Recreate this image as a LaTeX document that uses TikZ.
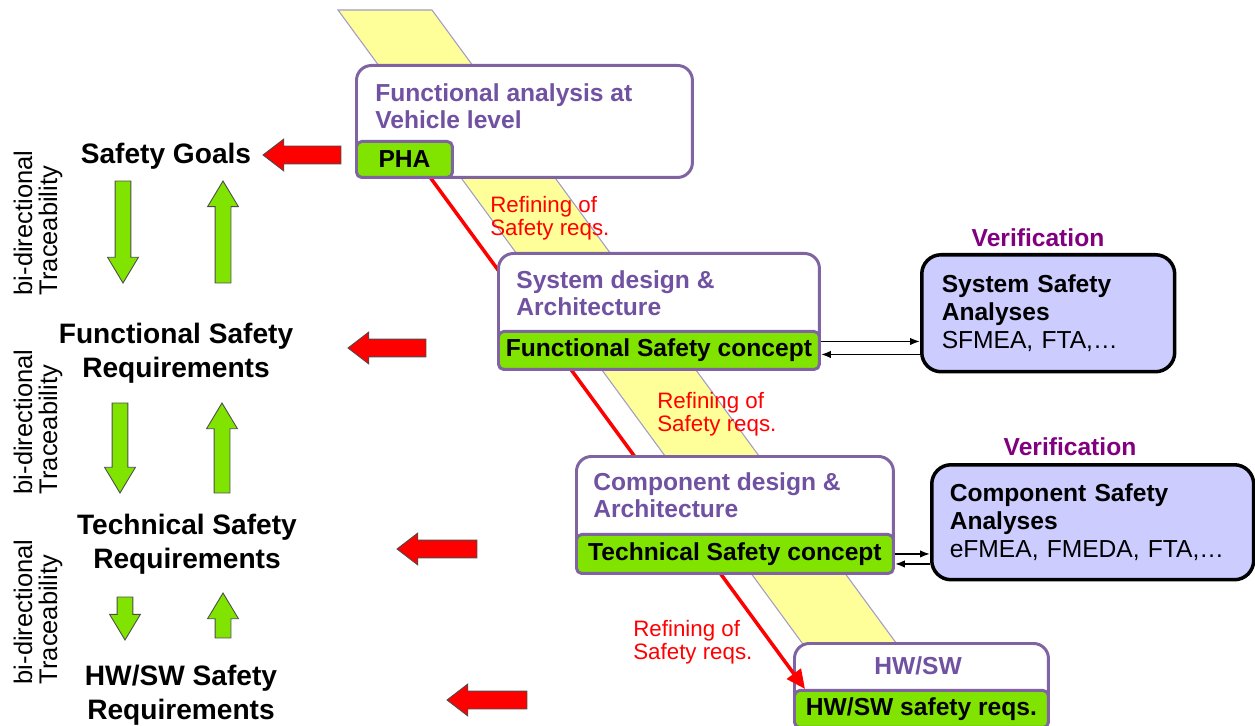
\documentclass[tikz,border=0pt]{standalone}
\usepackage{fontspec}
\setmainfont{Liberation Sans}
\usetikzlibrary{arrows.meta,shapes.arrows,calc,positioning}

\definecolor{boxline}{HTML}{8064A2}
\definecolor{titletext}{HTML}{7151A1}
\definecolor{conceptgreen}{HTML}{80E400}
\definecolor{verifill}{HTML}{CCCCFF}
\definecolor{veritext}{HTML}{800080}
\definecolor{bandfill}{HTML}{FFFF99}
\definecolor{bandline}{HTML}{A09BC8}

\pgfdeclarelayer{background}
\pgfsetlayers{background,main}

\tikzset{
    phasebox/.style={draw=boxline, line width=1.7pt, rounded corners=8.5pt, fill=white, anchor=north west, inner sep=0pt},
    conceptbar/.style={draw=boxline, line width=1.7pt, rounded corners=3pt, fill=conceptgreen, anchor=south west, inner sep=0pt, font=\bfseries\fontsize{14}{16}\selectfont},
    phasetitle/.style={anchor=north west, inner sep=0pt, align=left, text=titletext, font=\bfseries\fontsize{14}{15.4}\selectfont},
    verbox/.style={draw=black, line width=2pt, rounded corners=11pt, fill=verifill, anchor=north west, align=left, font=\fontsize{14}{16}\selectfont},
    verlabel/.style={text=veritext, font=\bfseries\fontsize{14}{16}\selectfont},
    reqtext/.style={align=center, font=\bfseries\fontsize{16}{19.3}\selectfont},
    tracetext/.style={rotate=90, align=left, font=\fontsize{14.5}{14.3}\selectfont},
    refinetext/.style={anchor=north west, inner sep=0pt, align=left, text=red, font=\fontsize{12.7}{13.1}\selectfont},
    blockarrow/.style={single arrow, draw=black!70, line width=0.5pt, inner xsep=0pt, outer sep=0pt, anchor=tip},
    greenarrow/.style={blockarrow, fill=conceptgreen, inner ysep=0.15cm, single arrow head extend=0.15cm, single arrow tip angle=62},
    redarrow/.style={blockarrow, fill=red, inner ysep=0.17cm, single arrow head extend=0.14cm, single arrow tip angle=75, rotate=180},
    checkarrow/.style={line width=0.9pt, -{Latex[length=0.2cm,width=0.15cm]}}
}

\begin{document}
\begin{tikzpicture}[x=0.02cm, y=-0.02cm]
    \useasboundingbox (0,0) rectangle (1255,726);

    \node[phasebox, minimum width=6.72cm, minimum height=2.24cm] (vehicle) at (355,64) {};
    \node[conceptbar, minimum width=1.92cm, minimum height=0.72cm] (pha) at (vehicle.south west) {PHA};
    \node[phasetitle] (vehicletitle) at (375,83) {Functional analysis at\\Vehicle level};

    \node[phasebox, minimum width=6.42cm, minimum height=2.32cm] (sysdesign) at (497,252) {};
    \node[conceptbar, minimum width=6.42cm, minimum height=0.76cm] (fsc) at (sysdesign.south west) {Functional Safety concept};
    \node[phasetitle] (systitle) at (516,270) {System design \&\\Architecture};

    \node[phasebox, minimum width=6.34cm, minimum height=2.34cm] (compdesign) at (575,455) {};
    \node[conceptbar, minimum width=6.34cm, minimum height=0.78cm] (tsc) at (compdesign.south west) {Technical Safety concept};
    \node[phasetitle] (comptitle) at (593,472) {Component design \&\\Architecture};

    \begin{pgfonlayer}{background}
        \fill[bandfill, draw=bandline, line width=0.6pt] (338,10) -- (432,10) -- (908.6,660) -- (814.6,660) -- cycle;
        \node[phasebox, minimum width=5.08cm, minimum height=1.68cm] (hwsw) at (793,642) {};
        \node[conceptbar, minimum width=5.08cm, minimum height=0.74cm] (hwreq) at (hwsw.south west) {HW/SW safety reqs.};
        \node[phasetitle, anchor=center] (hwtitle) at (918,666) {HW/SW};
        \draw[red, line width=2pt, -{Triangle[length=0.38cm,width=0.34cm]}] ($(pha.south east)+(-27,-6)$) -- ($(hwreq.north west)+(12,0)$);
    \end{pgfonlayer}

    \node[refinetext] (refine1) at (490,196) {Refining of\\Safety reqs.};
    \node[refinetext] (refine2) at (657,392) {Refining of\\Safety reqs.};
    \node[refinetext] (refine3) at (633,620) {Refining of\\Safety reqs.};

    \node[verlabel] (sysver) at (1038,238) {Verification};
    \node[verbox, minimum width=5.06cm, minimum height=2.34cm, text width=4.26cm, inner xsep=0.4cm] (sysana) at (920,253) {\textbf{System Safety}\\\textbf{Analyses}\\SFMEA, FTA,\dots};
    \node[verlabel] (compver) at (1070,447) {Verification};
    \node[verbox, minimum width=6.44cm, minimum height=2.30cm, text width=5.72cm, inner xsep=0.36cm] (compana) at (930,463) {\textbf{Component Safety}\\\textbf{Analyses}\\eFMEA, FMEDA, FTA,\dots};

    \draw[checkarrow] ($(fsc.east)+(0,-9)$) -- ($(sysana.west |- fsc.east)+(0,-9)$);
    \draw[checkarrow] ($(sysana.west |- fsc.east)+(0,4)$) -- ($(fsc.east)+(0,4)$);
    \draw[checkarrow] ($(tsc.east)+(0,0)$) -- ($(compana.west |- tsc.east)+(0,0)$);
    \draw[checkarrow] ($(compana.west |- tsc.east)+(0,10)$) -- ($(tsc.east)+(0,10)$);

    \node[reqtext] (goals) at (166,156) {Safety Goals};
    \node[reqtext] (fsr) at (176,353) {Functional Safety\\Requirements};
    \node[reqtext] (tsr) at (187,544) {Technical Safety\\Requirements};
    \node[reqtext] (hsr) at (181,695) {HW/SW Safety\\Requirements};

    \node[tracetext] (trace1) at (38,223) {bi-directional\\Traceability};
    \node[tracetext] (trace2) at (38,422) {bi-directional\\Traceability};
    \node[tracetext] (trace3) at (38,612) {bi-directional\\Traceability};

    \node[greenarrow, rotate=-90, minimum height=2.04cm] (down1) at (123,283) {};
    \node[greenarrow, rotate=90, minimum height=2.04cm] (up1) at (223,181) {};
    \node[greenarrow, rotate=-90, minimum height=1.80cm] (down2) at (120,493) {};
    \node[greenarrow, rotate=90, minimum height=1.80cm] (up2) at (222,403) {};
    \node[greenarrow, rotate=-90, minimum height=0.86cm] (down3) at (125,640) {};
    \node[greenarrow, rotate=90, minimum height=0.90cm] (up3) at (223,593) {};

    \node[redarrow, minimum height=1.56cm] (goalsin) at (263,155) {};
    \node[redarrow, minimum height=1.56cm] (fsrin) at (348,348) {};
    \node[redarrow, minimum height=1.60cm] (tsrin) at (397,549) {};
    \node[redarrow, minimum height=1.60cm] (hsrin) at (447,700) {};
\end{tikzpicture}
\end{document}
